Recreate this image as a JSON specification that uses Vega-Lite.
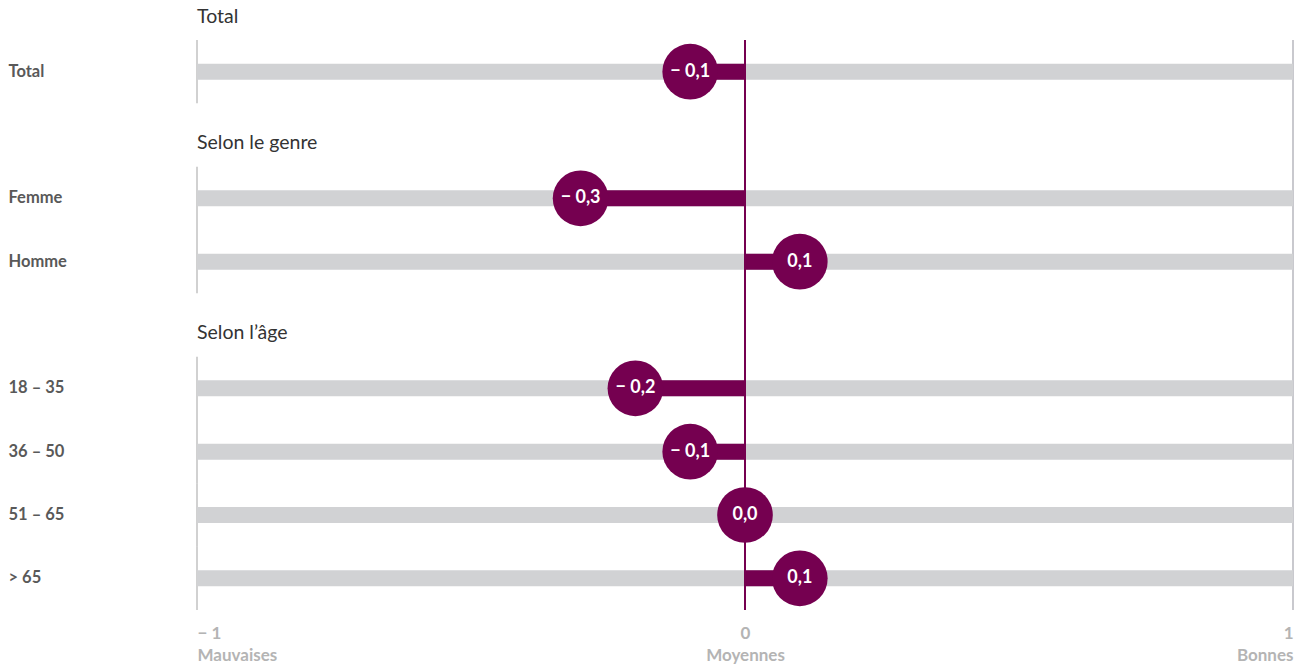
{
  "$schema": "https://vega.github.io/schema/vega-lite/v6.json",
  "autosize": {"type": "none"},
  "padding": {"left": 197, "top": 40, "right": 11, "bottom": 58},
  "width": 1096,
  "height": 570,
  "background": "white",
  "config": {
    "view": {"stroke": null},
    "font": "Lato"
  },
  "datasets": {
    "rows": [
      {"category": "Total", "value": -0.1, "label": "− 0,1"},
      {"category": "Femme", "value": -0.3, "label": "− 0,3"},
      {"category": "Homme", "value": 0.1, "label": "0,1"},
      {"category": "18 – 35", "value": -0.2, "label": "− 0,2"},
      {"category": "36 – 50", "value": -0.1, "label": "− 0,1"},
      {"category": "51 – 65", "value": 0.0, "label": "0,0"},
      {"category": "> 65", "value": 0.1, "label": "0,1"}
    ],
    "sections": [
      {"heading": "Total", "first": "Total"},
      {"heading": "Selon le genre", "first": "Femme"},
      {"heading": "Selon l’âge", "first": "18 – 35"}
    ]
  },
  "data": {"name": "rows"},
  "encoding": {
    "y": {
      "field": "category",
      "type": "nominal",
      "sort": null,
      "scale": {
        "domain": ["Total", "s1", "Femme", "Homme", "s2", "18 – 35", "36 – 50", "51 – 65", "> 65"],
        "paddingInner": 0,
        "paddingOuter": 0
      },
      "axis": {
        "title": null,
        "domain": false,
        "ticks": false,
        "tickSize": 0,
        "labelAlign": "left",
        "labelPadding": 189,
        "labelFontSize": 16.5,
        "labelFontWeight": "bold",
        "labelColor": "#595959",
        "labelExpr": "indexof(['s1','s2'], datum.value) >= 0 ? '' : datum.value"
      }
    }
  },
  "layer": [
    {
      "mark": {"type": "rule", "color": "#c9c9ce", "strokeWidth": 1.5},
      "encoding": {
        "x": {"datum": 1, "type": "quantitative", "scale": {"domain": [-1, 1], "nice": false, "padding": 0}},
        "y": null
      }
    },
    {
      "mark": {"type": "tick", "color": "#a8a8a8", "thickness": 1.5, "size": 63.4, "orient": "vertical"},
      "encoding": {
        "x": {"datum": -1, "type": "quantitative"}
      }
    },
    {
      "mark": {"type": "bar", "color": "#d1d2d4", "height": 16},
      "encoding": {
        "x": {"datum": -1, "type": "quantitative"},
        "x2": {"datum": 1}
      }
    },
    {
      "mark": {"type": "bar", "color": "#750050", "height": 16},
      "encoding": {
        "x": {"field": "value", "type": "quantitative"},
        "x2": {"datum": 0}
      }
    },
    {
      "mark": {"type": "rule", "color": "#750050", "strokeWidth": 2},
      "encoding": {
        "x": {"datum": 0, "type": "quantitative"},
        "y": null
      }
    },
    {
      "mark": {"type": "circle", "color": "#750050", "opacity": 1, "size": 3100},
      "encoding": {
        "x": {
          "field": "value",
          "type": "quantitative",
          "axis": {
            "title": null,
            "values": [-1, 0, 1],
            "domain": false,
            "ticks": false,
            "grid": false,
            "labelPadding": 15,
            "labelFontSize": 17,
            "labelFontWeight": "bold",
            "labelColor": "#b4b4b4",
            "labelLineHeight": 22,
            "labelAlign": {"expr": "datum.value < 0 ? 'left' : datum.value > 0 ? 'right' : 'center'"},
            "labelExpr": "datum.value < 0 ? ['− 1', 'Mauvaises'] : datum.value > 0 ? ['1', 'Bonnes'] : ['0', 'Moyennes']"
          }
        }
      }
    },
    {
      "mark": {"type": "text", "color": "white", "fontSize": 18, "fontWeight": "bold", "align": "center", "baseline": "middle"},
      "encoding": {
        "x": {"field": "value", "type": "quantitative"},
        "text": {"field": "label"}
      }
    },
    {
      "data": {"name": "sections"},
      "mark": {"type": "text", "color": "#333333", "fontSize": 19.5, "align": "left", "baseline": "middle", "dy": -55},
      "encoding": {
        "x": {"datum": -1, "type": "quantitative"},
        "y": {"field": "first", "type": "nominal"},
        "text": {"field": "heading"}
      }
    }
  ]
}
